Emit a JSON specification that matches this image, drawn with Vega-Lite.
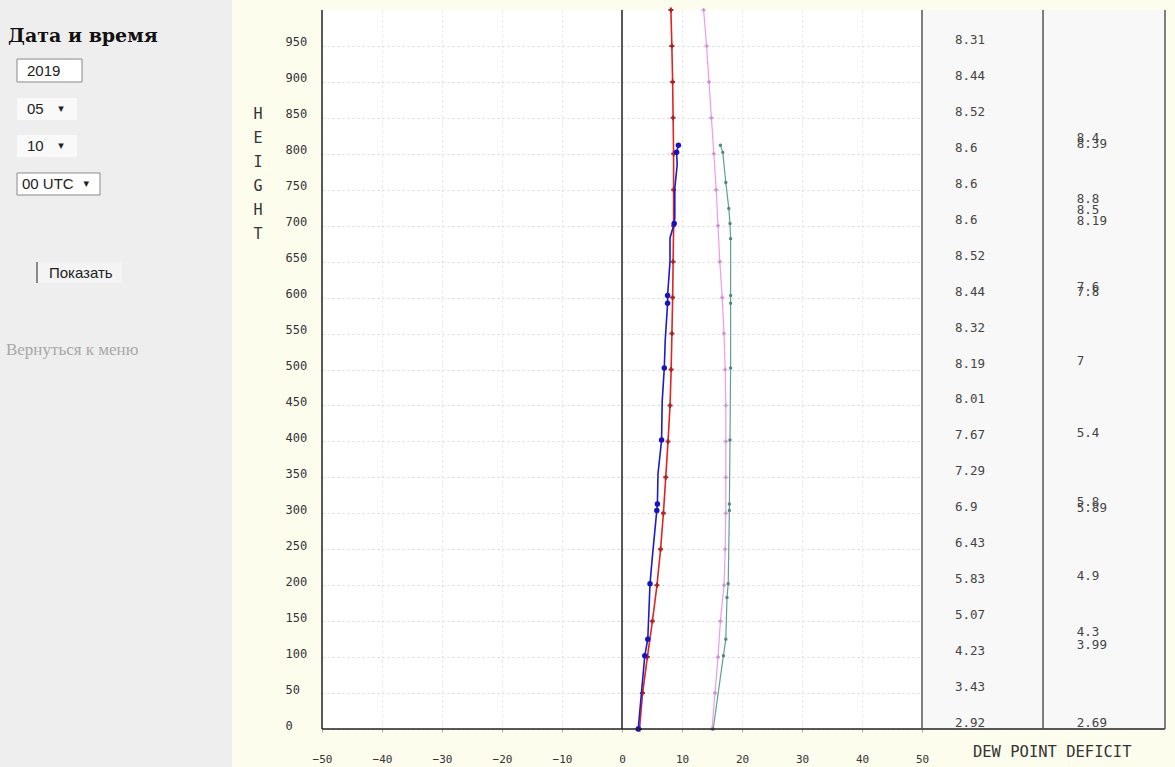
{
"$schema": "https://vega.github.io/schema/vega-lite/v6.json",
"width": 600,
"height": 719,
"autosize": {"type": "none"},
"padding": {"left": 322, "top": 10, "right": 253, "bottom": 38},
"background": "#fdfdee",
"config": {
  "view": {"fill": "#ffffff", "stroke": null},
  "text": {"font": "DejaVu Sans Mono"},
  "axisX": {"domain": false, "ticks": true, "tickSize": 3, "tickColor": "#aaaaaa", "labelPadding": 27, "labelBaseline": "middle", "labelFont": "DejaVu Sans Mono", "labelFontSize": 11, "labelColor": "#333333", "labelFlush": false, "labelOverlap": false, "grid": true, "gridColor": "#e2e2e2", "gridDash": [2, 3]},
  "axisY": {"domain": false, "ticks": false, "labelAlign": "left", "labelPadding": 37, "labelBaseline": "alphabetic", "labelFont": "DejaVu Sans Mono", "labelFontSize": 12, "labelColor": "#333333", "labelFlush": false, "labelOverlap": false, "grid": true, "gridColor": "#d6d6d6", "gridDash": [2, 3]}
},
"datasets": {
  "backdrops": [
    {"name": "panel", "v": -103.667, "v2": -65, "h": -52.85, "h2": 1013.9},
    {"name": "table", "v": 50, "v2": 90.5, "h": 0, "h2": 1000}
  ],
  "frame": [
    {"name": "outer", "v": -50, "v2": -50, "h": 0, "h2": 1000},
    {"name": "outer", "v": -50, "v2": 90.5, "h": 0, "h2": 0},
    {"name": "zero", "v": 0, "v2": 0, "h": 0, "h2": 1000},
    {"name": "table", "v": 50, "v2": 50, "h": 0, "h2": 1000},
    {"name": "table", "v": 70.17, "v2": 70.17, "h": 0, "h2": 1000},
    {"name": "table", "v": 90.5, "v2": 90.5, "h": 0, "h2": 1000}
  ],
  "model": [
    {"h": 0, "v": 2.92}, {"h": 50, "v": 3.43}, {"h": 100, "v": 4.23}, {"h": 150, "v": 5.07},
    {"h": 200, "v": 5.83}, {"h": 250, "v": 6.43}, {"h": 300, "v": 6.9}, {"h": 350, "v": 7.29},
    {"h": 400, "v": 7.67}, {"h": 450, "v": 8.01}, {"h": 500, "v": 8.19}, {"h": 550, "v": 8.32},
    {"h": 600, "v": 8.44}, {"h": 650, "v": 8.52}, {"h": 700, "v": 8.6}, {"h": 750, "v": 8.6},
    {"h": 800, "v": 8.6}, {"h": 850, "v": 8.52}, {"h": 900, "v": 8.44}, {"h": 950, "v": 8.31},
    {"h": 1000, "v": 8.15}
  ],
  "sonde": [
    {"h": 814, "v": 8.4}, {"h": 805, "v": 8.39}, {"h": 729, "v": 8.8}, {"h": 713, "v": 8.5},
    {"h": 698, "v": 8.19}, {"h": 606, "v": 7.6}, {"h": 600, "v": 7.8}, {"h": 503, "v": 7},
    {"h": 403, "v": 5.4}, {"h": 307, "v": 5.8}, {"h": 299, "v": 5.89}, {"h": 204, "v": 4.9},
    {"h": 127, "v": 4.3}, {"h": 108, "v": 3.99}, {"h": 0, "v": 2.69}
  ],
  "blue": [
    {"h": 812, "v": 9.4, "obs": true}, {"h": 802, "v": 9.1, "obs": true}, {"h": 785, "v": 9.2, "obs": false},
    {"h": 752, "v": 8.8, "obs": false}, {"h": 711, "v": 8.8, "obs": false}, {"h": 703, "v": 8.7, "obs": true},
    {"h": 683, "v": 8.0, "obs": false}, {"h": 650, "v": 8.0, "obs": false}, {"h": 603, "v": 7.6, "obs": true},
    {"h": 592, "v": 7.6, "obs": true}, {"h": 540, "v": 7.2, "obs": false}, {"h": 502, "v": 7.05, "obs": true},
    {"h": 456, "v": 6.7, "obs": false}, {"h": 402, "v": 6.6, "obs": true}, {"h": 355, "v": 6.0, "obs": false},
    {"h": 313, "v": 5.9, "obs": true}, {"h": 304, "v": 5.8, "obs": true}, {"h": 234, "v": 5.0, "obs": false},
    {"h": 202, "v": 4.67, "obs": true}, {"h": 125, "v": 4.3, "obs": true}, {"h": 102, "v": 3.8, "obs": true},
    {"h": 0, "v": 2.7, "obs": true}
  ],
  "pink": [
    {"h": 0, "v": 15.0}, {"h": 50, "v": 15.5}, {"h": 100, "v": 16.0}, {"h": 150, "v": 16.4},
    {"h": 200, "v": 17.0}, {"h": 250, "v": 17.2}, {"h": 300, "v": 17.3}, {"h": 350, "v": 17.3},
    {"h": 400, "v": 17.3}, {"h": 450, "v": 17.3}, {"h": 500, "v": 17.2}, {"h": 550, "v": 17.0},
    {"h": 600, "v": 16.7}, {"h": 650, "v": 16.3}, {"h": 700, "v": 16.0}, {"h": 750, "v": 15.7},
    {"h": 800, "v": 15.3}, {"h": 850, "v": 14.9}, {"h": 900, "v": 14.5}, {"h": 950, "v": 14.1},
    {"h": 1000, "v": 13.6}
  ],
  "teal": [
    {"h": 812, "v": 16.4}, {"h": 802, "v": 16.8}, {"h": 760, "v": 17.3}, {"h": 724, "v": 17.8},
    {"h": 703, "v": 18.0}, {"h": 682, "v": 18.1}, {"h": 603, "v": 18.1}, {"h": 592, "v": 18.1},
    {"h": 502, "v": 18.1}, {"h": 402, "v": 18.0}, {"h": 313, "v": 17.9}, {"h": 304, "v": 17.9},
    {"h": 202, "v": 17.7}, {"h": 183, "v": 17.5}, {"h": 125, "v": 17.3}, {"h": 102, "v": 16.9},
    {"h": 0, "v": 15.2}
  ],
  "boxes": [
    {"name": "year", "v": -100.83, "v2": -90, "h": 899.9, "h2": 931.8},
    {"name": "month", "v": -100.83, "v2": -90.83, "h": 847.0, "h2": 877.6},
    {"name": "day", "v": -100.83, "v2": -90.83, "h": 795.5, "h2": 826.2},
    {"name": "hour", "v": -100.83, "v2": -87.0, "h": 742.7, "h2": 773.3},
    {"name": "button", "v": -97.5, "v2": -83.33, "h": 620.3, "h2": 649.5}
  ],
  "labels": [
    {"name": "title", "text": "Дата и время", "v": -102.33, "h": 963.8},
    {"name": "field", "text": "2019", "v": -99.17, "h": 915.2},
    {"name": "field", "text": "05", "v": -99.17, "h": 862.4},
    {"name": "field", "text": "10", "v": -99.17, "h": 810.9},
    {"name": "field", "text": "00 UTC", "v": -100.0, "h": 758.0},
    {"name": "arrow", "text": "▾", "v": -93.5, "h": 862.4},
    {"name": "arrow", "text": "▾", "v": -93.5, "h": 810.9},
    {"name": "arrow", "text": "▾", "v": -89.3, "h": 758.0},
    {"name": "button", "text": "Показать", "v": -90.2, "h": 634.2},
    {"name": "link", "text": "Вернуться к меню", "v": -102.67, "h": 527.1},
    {"name": "xtitle", "text": "DEW POINT DEFICIT", "v": 71.7, "h": -32},
    {"name": "ytitle", "text": "H\nE\nI\nG\nH\nT", "v": -60.67, "h": 865}
  ]
},
"layer": [
  {
    "data": {"name": "backdrops"},
    "transform": [{"filter": "datum.name === 'panel'"}],
    "mark": {"type": "rect", "fill": "#eeeeee"},
    "encoding": {
      "x": {"field": "v", "type": "quantitative", "scale": {"domain": [-50, 50], "nice": false, "zero": false}, "title": null, "axis": {"values": [-50, -40, -30, -20, -10, 0, 10, 20, 30, 40, 50]}},
      "x2": {"field": "v2"},
      "y": {"field": "h", "type": "quantitative", "scale": {"domain": [0, 1000], "nice": false, "zero": false}, "title": null, "axis": {"values": [0, 50, 100, 150, 200, 250, 300, 350, 400, 450, 500, 550, 600, 650, 700, 750, 800, 850, 900, 950]}},
      "y2": {"field": "h2"}
    }
  },
  {
    "data": {"name": "backdrops"},
    "transform": [{"filter": "datum.name === 'table'"}],
    "mark": {"type": "rect", "fill": "#f8f8f8"},
    "encoding": {
      "x": {"field": "v", "type": "quantitative", "scale": {"domain": [-50, 50], "nice": false, "zero": false}, "title": null, "axis": {"values": [-50, -40, -30, -20, -10, 0, 10, 20, 30, 40, 50]}},
      "x2": {"field": "v2"},
      "y": {"field": "h", "type": "quantitative", "scale": {"domain": [0, 1000], "nice": false, "zero": false}, "title": null, "axis": {"values": [0, 50, 100, 150, 200, 250, 300, 350, 400, 450, 500, 550, 600, 650, 700, 750, 800, 850, 900, 950]}},
      "y2": {"field": "h2"}
    }
  },
  {
    "data": {"name": "pink"},
    "mark": {"type": "line", "color": "#f09af0", "strokeWidth": 1.2, "point": {"shape": "cross", "size": 16, "color": "#d58fd5", "filled": true}},
    "encoding": {
      "x": {"field": "v", "type": "quantitative", "scale": {"domain": [-50, 50], "nice": false, "zero": false}, "title": null, "axis": {"values": [-50, -40, -30, -20, -10, 0, 10, 20, 30, 40, 50]}},
      "y": {"field": "h", "type": "quantitative", "scale": {"domain": [0, 1000], "nice": false, "zero": false}, "title": null, "axis": {"values": [0, 50, 100, 150, 200, 250, 300, 350, 400, 450, 500, 550, 600, 650, 700, 750, 800, 850, 900, 950]}},
      "order": {"field": "h", "type": "quantitative"}
    }
  },
  {
    "data": {"name": "teal"},
    "mark": {"type": "line", "color": "#5fa090", "strokeWidth": 1.2, "point": {"shape": "circle", "size": 12, "color": "#4f8a7a", "filled": true}},
    "encoding": {
      "x": {"field": "v", "type": "quantitative", "scale": {"domain": [-50, 50], "nice": false, "zero": false}, "title": null, "axis": {"values": [-50, -40, -30, -20, -10, 0, 10, 20, 30, 40, 50]}},
      "y": {"field": "h", "type": "quantitative", "scale": {"domain": [0, 1000], "nice": false, "zero": false}, "title": null, "axis": {"values": [0, 50, 100, 150, 200, 250, 300, 350, 400, 450, 500, 550, 600, 650, 700, 750, 800, 850, 900, 950]}},
      "order": {"field": "h", "type": "quantitative"}
    }
  },
  {
    "data": {"name": "model"},
    "mark": {"type": "line", "color": "#e02424", "strokeWidth": 1.6, "point": {"shape": "cross", "size": 24, "color": "#b02020", "filled": true}},
    "encoding": {
      "x": {"field": "v", "type": "quantitative", "scale": {"domain": [-50, 50], "nice": false, "zero": false}, "title": null, "axis": {"values": [-50, -40, -30, -20, -10, 0, 10, 20, 30, 40, 50]}},
      "y": {"field": "h", "type": "quantitative", "scale": {"domain": [0, 1000], "nice": false, "zero": false}, "title": null, "axis": {"values": [0, 50, 100, 150, 200, 250, 300, 350, 400, 450, 500, 550, 600, 650, 700, 750, 800, 850, 900, 950]}},
      "order": {"field": "h", "type": "quantitative"}
    }
  },
  {
    "data": {"name": "blue"},
    "mark": {"type": "line", "color": "#1c1ccc", "strokeWidth": 1.6},
    "encoding": {
      "x": {"field": "v", "type": "quantitative", "scale": {"domain": [-50, 50], "nice": false, "zero": false}, "title": null, "axis": {"values": [-50, -40, -30, -20, -10, 0, 10, 20, 30, 40, 50]}},
      "y": {"field": "h", "type": "quantitative", "scale": {"domain": [0, 1000], "nice": false, "zero": false}, "title": null, "axis": {"values": [0, 50, 100, 150, 200, 250, 300, 350, 400, 450, 500, 550, 600, 650, 700, 750, 800, 850, 900, 950]}},
      "order": {"field": "h", "type": "quantitative"}
    }
  },
  {
    "data": {"name": "blue"},
    "transform": [{"filter": "datum.obs"}],
    "mark": {"type": "point", "shape": "circle", "filled": true, "size": 30, "color": "#1414c0", "opacity": 1},
    "encoding": {
      "x": {"field": "v", "type": "quantitative", "scale": {"domain": [-50, 50], "nice": false, "zero": false}, "title": null, "axis": {"values": [-50, -40, -30, -20, -10, 0, 10, 20, 30, 40, 50]}},
      "y": {"field": "h", "type": "quantitative", "scale": {"domain": [0, 1000], "nice": false, "zero": false}, "title": null, "axis": {"values": [0, 50, 100, 150, 200, 250, 300, 350, 400, 450, 500, 550, 600, 650, 700, 750, 800, 850, 900, 950]}}
    }
  },
  {
    "data": {"name": "frame"},
    "transform": [{"filter": "datum.name === 'outer' || datum.name === 'zero'"}],
    "mark": {"type": "rule", "color": "#222222", "strokeWidth": 1.5},
    "encoding": {
      "x": {"field": "v", "type": "quantitative", "scale": {"domain": [-50, 50], "nice": false, "zero": false}, "title": null, "axis": {"values": [-50, -40, -30, -20, -10, 0, 10, 20, 30, 40, 50]}},
      "x2": {"field": "v2"},
      "y": {"field": "h", "type": "quantitative", "scale": {"domain": [0, 1000], "nice": false, "zero": false}, "title": null, "axis": {"values": [0, 50, 100, 150, 200, 250, 300, 350, 400, 450, 500, 550, 600, 650, 700, 750, 800, 850, 900, 950]}},
      "y2": {"field": "h2"}
    }
  },
  {
    "data": {"name": "frame"},
    "transform": [{"filter": "datum.name === 'table'"}],
    "mark": {"type": "rule", "color": "#555555", "strokeWidth": 1.5},
    "encoding": {
      "x": {"field": "v", "type": "quantitative", "scale": {"domain": [-50, 50], "nice": false, "zero": false}, "title": null, "axis": {"values": [-50, -40, -30, -20, -10, 0, 10, 20, 30, 40, 50]}},
      "x2": {"field": "v2"},
      "y": {"field": "h", "type": "quantitative", "scale": {"domain": [0, 1000], "nice": false, "zero": false}, "title": null, "axis": {"values": [0, 50, 100, 150, 200, 250, 300, 350, 400, 450, 500, 550, 600, 650, 700, 750, 800, 850, 900, 950]}},
      "y2": {"field": "h2"}
    }
  },
  {
    "data": {"name": "model"},
    "transform": [{"filter": "datum.h <= 950"}],
    "mark": {"type": "text", "align": "left", "baseline": "alphabetic", "dy": -2, "font": "DejaVu Sans Mono", "fontSize": 12.5, "color": "#444444"},
    "encoding": {
      "x": {"datum": 55.5, "type": "quantitative", "scale": {"domain": [-50, 50], "nice": false, "zero": false}, "title": null, "axis": {"values": [-50, -40, -30, -20, -10, 0, 10, 20, 30, 40, 50]}},
      "y": {"field": "h", "type": "quantitative", "scale": {"domain": [0, 1000], "nice": false, "zero": false}, "title": null, "axis": {"values": [0, 50, 100, 150, 200, 250, 300, 350, 400, 450, 500, 550, 600, 650, 700, 750, 800, 850, 900, 950]}},
      "text": {"field": "v", "type": "nominal"}
    }
  },
  {
    "data": {"name": "sonde"},
    "mark": {"type": "text", "align": "left", "baseline": "alphabetic", "dy": -2, "font": "DejaVu Sans Mono", "fontSize": 12.5, "color": "#444444"},
    "encoding": {
      "x": {"datum": 75.8, "type": "quantitative", "scale": {"domain": [-50, 50], "nice": false, "zero": false}, "title": null, "axis": {"values": [-50, -40, -30, -20, -10, 0, 10, 20, 30, 40, 50]}},
      "y": {"field": "h", "type": "quantitative", "scale": {"domain": [0, 1000], "nice": false, "zero": false}, "title": null, "axis": {"values": [0, 50, 100, 150, 200, 250, 300, 350, 400, 450, 500, 550, 600, 650, 700, 750, 800, 850, 900, 950]}},
      "text": {"field": "v", "type": "nominal"}
    }
  },
  {
    "data": {"name": "boxes"},
    "transform": [{"filter": "datum.name === 'year' || datum.name === 'hour'"}],
    "mark": {"type": "rect", "fill": "#ffffff", "stroke": "#8a8a8a", "strokeWidth": 1},
    "encoding": {
      "x": {"field": "v", "type": "quantitative", "scale": {"domain": [-50, 50], "nice": false, "zero": false}, "title": null, "axis": {"values": [-50, -40, -30, -20, -10, 0, 10, 20, 30, 40, 50]}},
      "x2": {"field": "v2"},
      "y": {"field": "h", "type": "quantitative", "scale": {"domain": [0, 1000], "nice": false, "zero": false}, "title": null, "axis": {"values": [0, 50, 100, 150, 200, 250, 300, 350, 400, 450, 500, 550, 600, 650, 700, 750, 800, 850, 900, 950]}},
      "y2": {"field": "h2"}
    }
  },
  {
    "data": {"name": "boxes"},
    "transform": [{"filter": "datum.name === 'month' || datum.name === 'day'"}],
    "mark": {"type": "rect", "fill": "#f9f9f9"},
    "encoding": {
      "x": {"field": "v", "type": "quantitative", "scale": {"domain": [-50, 50], "nice": false, "zero": false}, "title": null, "axis": {"values": [-50, -40, -30, -20, -10, 0, 10, 20, 30, 40, 50]}},
      "x2": {"field": "v2"},
      "y": {"field": "h", "type": "quantitative", "scale": {"domain": [0, 1000], "nice": false, "zero": false}, "title": null, "axis": {"values": [0, 50, 100, 150, 200, 250, 300, 350, 400, 450, 500, 550, 600, 650, 700, 750, 800, 850, 900, 950]}},
      "y2": {"field": "h2"}
    }
  },
  {
    "data": {"name": "boxes"},
    "transform": [{"filter": "datum.name === 'button'"}],
    "mark": {"type": "rect", "fill": "#f4f4f4"},
    "encoding": {
      "x": {"field": "v", "type": "quantitative", "scale": {"domain": [-50, 50], "nice": false, "zero": false}, "title": null, "axis": {"values": [-50, -40, -30, -20, -10, 0, 10, 20, 30, 40, 50]}},
      "x2": {"field": "v2"},
      "y": {"field": "h", "type": "quantitative", "scale": {"domain": [0, 1000], "nice": false, "zero": false}, "title": null, "axis": {"values": [0, 50, 100, 150, 200, 250, 300, 350, 400, 450, 500, 550, 600, 650, 700, 750, 800, 850, 900, 950]}},
      "y2": {"field": "h2"}
    }
  },
  {
    "data": {"name": "boxes"},
    "transform": [{"filter": "datum.name === 'button'"}],
    "mark": {"type": "rule", "color": "#666666", "strokeWidth": 1.5},
    "encoding": {
      "x": {"field": "v", "type": "quantitative", "scale": {"domain": [-50, 50], "nice": false, "zero": false}, "title": null, "axis": {"values": [-50, -40, -30, -20, -10, 0, 10, 20, 30, 40, 50]}},
      "y": {"field": "h", "type": "quantitative", "scale": {"domain": [0, 1000], "nice": false, "zero": false}, "title": null, "axis": {"values": [0, 50, 100, 150, 200, 250, 300, 350, 400, 450, 500, 550, 600, 650, 700, 750, 800, 850, 900, 950]}},
      "y2": {"field": "h2"}
    }
  },
  {
    "data": {"name": "labels"},
    "transform": [{"filter": "datum.name === 'title'"}],
    "mark": {"type": "text", "align": "left", "baseline": "middle", "font": "DejaVu Serif", "fontWeight": "bold", "fontSize": 19, "color": "#111111"},
    "encoding": {
      "x": {"field": "v", "type": "quantitative", "scale": {"domain": [-50, 50], "nice": false, "zero": false}, "title": null, "axis": {"values": [-50, -40, -30, -20, -10, 0, 10, 20, 30, 40, 50]}},
      "y": {"field": "h", "type": "quantitative", "scale": {"domain": [0, 1000], "nice": false, "zero": false}, "title": null, "axis": {"values": [0, 50, 100, 150, 200, 250, 300, 350, 400, 450, 500, 550, 600, 650, 700, 750, 800, 850, 900, 950]}},
      "text": {"field": "text", "type": "nominal"}
    }
  },
  {
    "data": {"name": "labels"},
    "transform": [{"filter": "datum.name === 'field'"}],
    "mark": {"type": "text", "align": "left", "baseline": "middle", "font": "Liberation Sans", "fontSize": 15, "color": "#222222"},
    "encoding": {
      "x": {"field": "v", "type": "quantitative", "scale": {"domain": [-50, 50], "nice": false, "zero": false}, "title": null, "axis": {"values": [-50, -40, -30, -20, -10, 0, 10, 20, 30, 40, 50]}},
      "y": {"field": "h", "type": "quantitative", "scale": {"domain": [0, 1000], "nice": false, "zero": false}, "title": null, "axis": {"values": [0, 50, 100, 150, 200, 250, 300, 350, 400, 450, 500, 550, 600, 650, 700, 750, 800, 850, 900, 950]}},
      "text": {"field": "text", "type": "nominal"}
    }
  },
  {
    "data": {"name": "labels"},
    "transform": [{"filter": "datum.name === 'arrow'"}],
    "mark": {"type": "text", "align": "center", "baseline": "middle", "font": "DejaVu Sans", "fontSize": 11, "color": "#222222"},
    "encoding": {
      "x": {"field": "v", "type": "quantitative", "scale": {"domain": [-50, 50], "nice": false, "zero": false}, "title": null, "axis": {"values": [-50, -40, -30, -20, -10, 0, 10, 20, 30, 40, 50]}},
      "y": {"field": "h", "type": "quantitative", "scale": {"domain": [0, 1000], "nice": false, "zero": false}, "title": null, "axis": {"values": [0, 50, 100, 150, 200, 250, 300, 350, 400, 450, 500, 550, 600, 650, 700, 750, 800, 850, 900, 950]}},
      "text": {"field": "text", "type": "nominal"}
    }
  },
  {
    "data": {"name": "labels"},
    "transform": [{"filter": "datum.name === 'button'"}],
    "mark": {"type": "text", "align": "center", "baseline": "middle", "font": "Liberation Sans", "fontSize": 15, "color": "#222222"},
    "encoding": {
      "x": {"field": "v", "type": "quantitative", "scale": {"domain": [-50, 50], "nice": false, "zero": false}, "title": null, "axis": {"values": [-50, -40, -30, -20, -10, 0, 10, 20, 30, 40, 50]}},
      "y": {"field": "h", "type": "quantitative", "scale": {"domain": [0, 1000], "nice": false, "zero": false}, "title": null, "axis": {"values": [0, 50, 100, 150, 200, 250, 300, 350, 400, 450, 500, 550, 600, 650, 700, 750, 800, 850, 900, 950]}},
      "text": {"field": "text", "type": "nominal"}
    }
  },
  {
    "data": {"name": "labels"},
    "transform": [{"filter": "datum.name === 'link'"}],
    "mark": {"type": "text", "align": "left", "baseline": "middle", "font": "Liberation Serif", "fontSize": 17, "color": "#a8a8a8"},
    "encoding": {
      "x": {"field": "v", "type": "quantitative", "scale": {"domain": [-50, 50], "nice": false, "zero": false}, "title": null, "axis": {"values": [-50, -40, -30, -20, -10, 0, 10, 20, 30, 40, 50]}},
      "y": {"field": "h", "type": "quantitative", "scale": {"domain": [0, 1000], "nice": false, "zero": false}, "title": null, "axis": {"values": [0, 50, 100, 150, 200, 250, 300, 350, 400, 450, 500, 550, 600, 650, 700, 750, 800, 850, 900, 950]}},
      "text": {"field": "text", "type": "nominal"}
    }
  },
  {
    "data": {"name": "labels"},
    "transform": [{"filter": "datum.name === 'xtitle'"}],
    "mark": {"type": "text", "align": "center", "baseline": "middle", "font": "DejaVu Sans Mono", "fontSize": 15.5, "color": "#333333"},
    "encoding": {
      "x": {"field": "v", "type": "quantitative", "scale": {"domain": [-50, 50], "nice": false, "zero": false}, "title": null, "axis": {"values": [-50, -40, -30, -20, -10, 0, 10, 20, 30, 40, 50]}},
      "y": {"field": "h", "type": "quantitative", "scale": {"domain": [0, 1000], "nice": false, "zero": false}, "title": null, "axis": {"values": [0, 50, 100, 150, 200, 250, 300, 350, 400, 450, 500, 550, 600, 650, 700, 750, 800, 850, 900, 950]}},
      "text": {"field": "text", "type": "nominal"}
    }
  },
  {
    "data": {"name": "labels"},
    "transform": [{"filter": "datum.name === 'ytitle'"}],
    "mark": {"type": "text", "align": "center", "baseline": "top", "lineBreak": "\n", "lineHeight": 24, "font": "DejaVu Sans Mono", "fontSize": 15, "color": "#333333"},
    "encoding": {
      "x": {"field": "v", "type": "quantitative", "scale": {"domain": [-50, 50], "nice": false, "zero": false}, "title": null, "axis": {"values": [-50, -40, -30, -20, -10, 0, 10, 20, 30, 40, 50]}},
      "y": {"field": "h", "type": "quantitative", "scale": {"domain": [0, 1000], "nice": false, "zero": false}, "title": null, "axis": {"values": [0, 50, 100, 150, 200, 250, 300, 350, 400, 450, 500, 550, 600, 650, 700, 750, 800, 850, 900, 950]}},
      "text": {"field": "text", "type": "nominal"}
    }
  }
]
}
